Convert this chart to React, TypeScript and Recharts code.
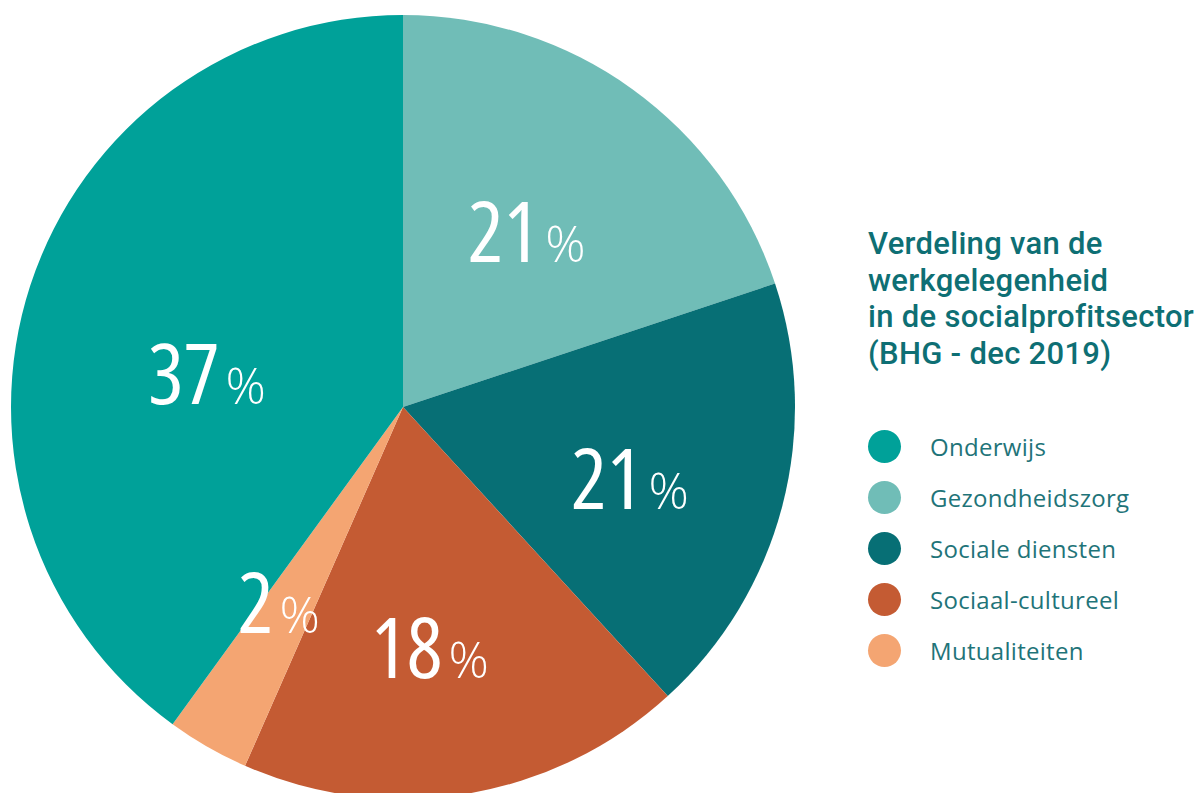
import { PieChart, Pie, Cell } from 'recharts';

// slices in drawing order, clockwise from 12 o'clock
const sectors = ['Gezondheidszorg', 'Sociale diensten', 'Sociaal-cultureel', 'Mutualiteiten', 'Onderwijs'];
const shares = [19.9, 18.3, 18.4, 3.4, 40.0];
const labelTexts = ['21', '21', '18', '2', '37'];
const colors = ['#70BDB7', '#076F75', '#C45B33', '#F4A572', '#00A199'];

// legend order
const legendItems = ['Onderwijs', 'Gezondheidszorg', 'Sociale diensten', 'Sociaal-cultureel', 'Mutualiteiten'];

const titleLines = ['Verdeling van de', 'werkgelegenheid', 'in de socialprofitsector', '(BHG - dec 2019)'];

const data = sectors.map((name, i) => ({ name, value: shares[i], label: labelTexts[i] }));

// label placement tweaks: radius factor and angle nudge (deg)
const labelRadius = [0.546, 0.607, 0.619, 0.592, 0.507];
const labelNudge = [0.5, -3, -3, -2.5, 8.5];

const RAD = Math.PI / 180;
const labelFont = "'Open Sans', Roboto, sans-serif";

function renderLabel(props: any) {
  const { cx, cy, midAngle, outerRadius, index } = props;
  const r = outerRadius * labelRadius[index];
  const a = (midAngle + labelNudge[index]) * RAD;
  const x = cx + r * Math.cos(a);
  const y = cy - r * Math.sin(a);
  return (
    <text x={x} y={y + 30} textAnchor="middle" fill="#fff" style={{ fontFamily: labelFont }}>
      <tspan fontSize={84} fontWeight={400} style={{ fontStretch: '75%' }}>
        {data[index].label}
      </tspan>
      <tspan fontSize={50} fontWeight={300} dx={6} style={{ fontStretch: '100%' }}>
        %
      </tspan>
    </text>
  );
}

export default function App() {
  return (
    <div style={{ position: 'absolute', left: 0, top: 0, width: 1197, height: 793, overflow: 'hidden', background: '#fff' }}>
      <PieChart width={840} height={793} margin={{ top: 0, right: 0, bottom: 0, left: 0 }}>
        <Pie
          data={data}
          dataKey="value"
          cx={403}
          cy={407}
          outerRadius={392}
          startAngle={90}
          endAngle={-270}
          stroke="none"
          label={renderLabel}
          labelLine={false}
          isAnimationActive={false}
        >
          {data.map((d, i) => (
            <Cell key={d.name} fill={colors[i]} />
          ))}
        </Pie>
      </PieChart>

      <div
        style={{
          position: 'absolute',
          left: 868,
          top: 226,
          fontFamily: 'Roboto, sans-serif',
          fontWeight: 500,
          fontSize: 31,
          letterSpacing: 0.3,
          lineHeight: '36.5px',
          color: '#0E6F74',
          whiteSpace: 'nowrap',
        }}
      >
        {titleLines.map((t) => (
          <div key={t}>{t}</div>
        ))}
      </div>

      <div style={{ position: 'absolute', left: 868, top: 420.5 }}>
        {legendItems.map((name) => (
          <div key={name} style={{ display: 'flex', alignItems: 'center', height: 51 }}>
            <div
              style={{
                width: 33,
                height: 33,
                borderRadius: '50%',
                background: colors[sectors.indexOf(name)],
              }}
            />
            <div
              style={{
                marginLeft: 29,
                fontFamily: labelFont,
                fontSize: 24,
                color: '#1F7479',
                letterSpacing: 0.3,
                whiteSpace: 'nowrap',
              }}
            >
              {name}
            </div>
          </div>
        ))}
      </div>
    </div>
  );
}
